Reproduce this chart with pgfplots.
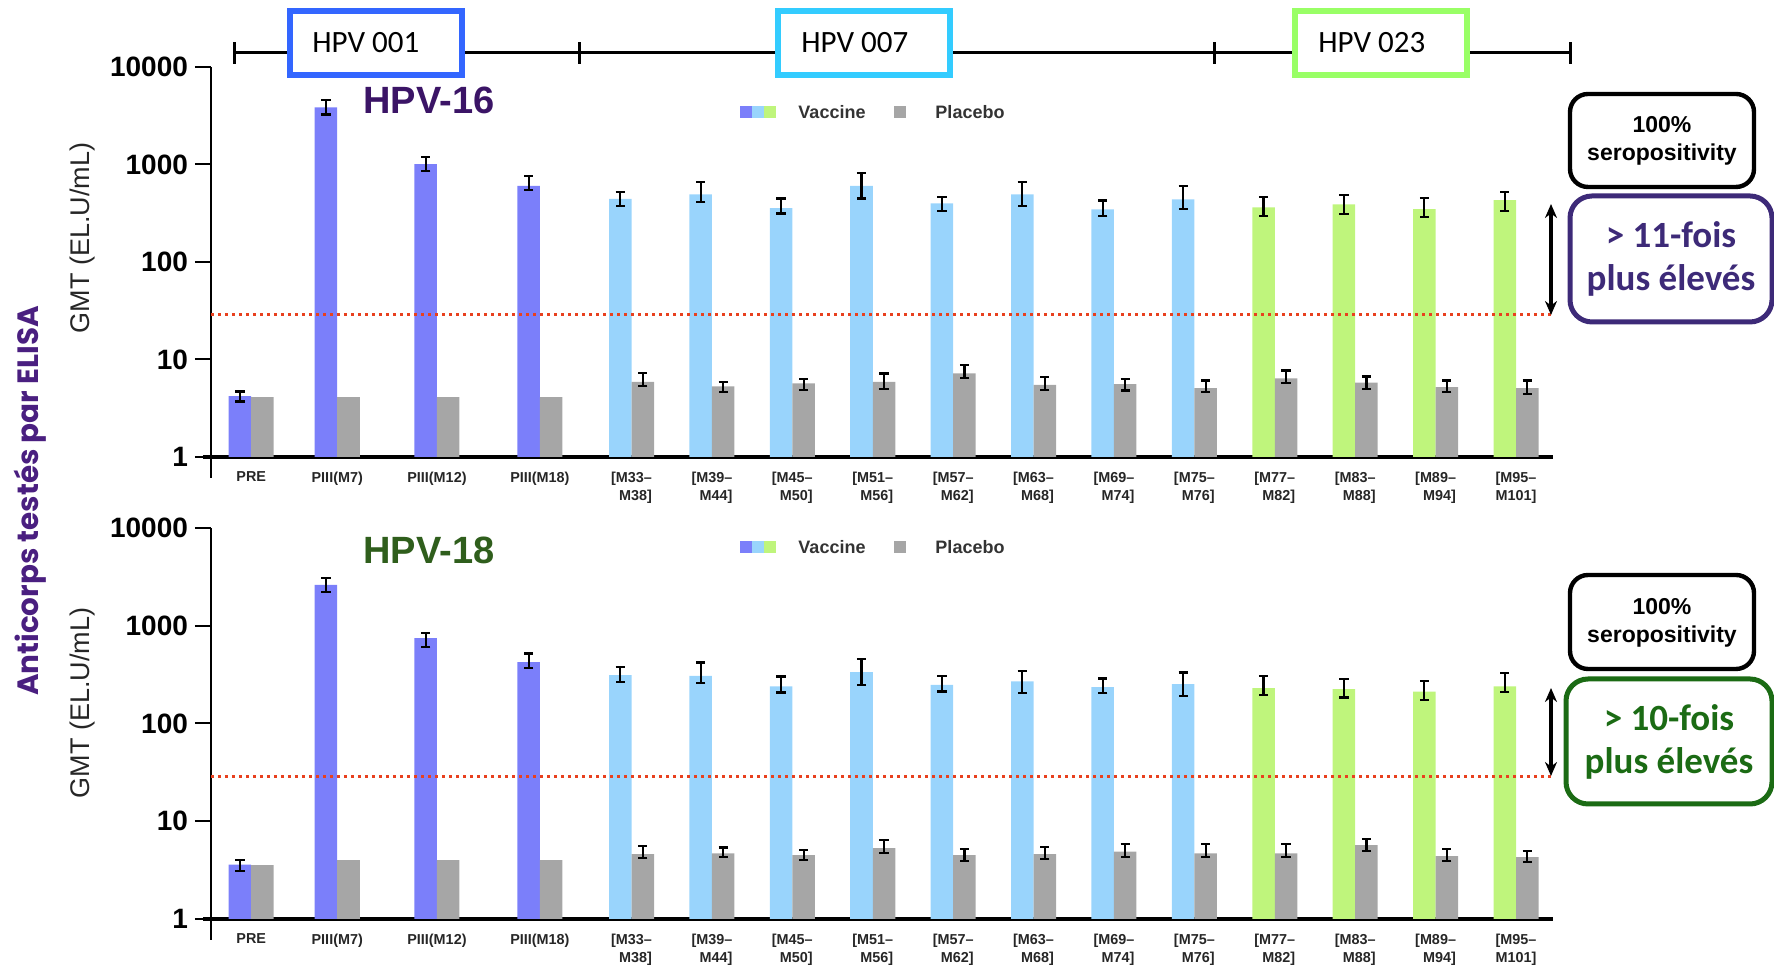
\documentclass[border=0pt]{standalone}
\usepackage{pgfplots}
\pgfplotsset{compat=1.18}
\usepackage{pgfplotstable}
\usepackage{fontspec}
\setmainfont{Liberation Sans}
\newfontfamily\calfont{Carlito}
\newfontfamily\popfont{Poppins}
\usetikzlibrary{arrows.meta}

\definecolor{vacA}{HTML}{7B7FFA}
\definecolor{vacB}{HTML}{99D4FC}
\definecolor{vacC}{HTML}{BFF57C}
\definecolor{plac}{HTML}{A6A6A6}
\definecolor{dotred}{HTML}{E8401E}
\definecolor{tpurple}{HTML}{3B1466}
\definecolor{tgreen}{HTML}{2F5E1C}
\definecolor{lpurple}{HTML}{4A1F80}
\definecolor{bpurple}{HTML}{3D2A78}
\definecolor{bgreen}{HTML}{1B6B14}
\definecolor{hpvA}{HTML}{3366FF}
\definecolor{hpvB}{HTML}{33CCFF}
\definecolor{hpvC}{HTML}{99FF66}

% HPV-16 (x = bar centre)
\pgfplotstableread{
x v ep em
-0.87 4.2 0.5 0.5
0.20 3860 720 610
1.44 1010 190 145
2.72 605 155 55
}\sixA
\pgfplotstableread{
x v ep em
3.86 443 83 68
4.86 495 165 80
5.86 356 91 42
6.86 605 210 158
7.86 400 68 64
8.86 495 172 120
9.86 347 80 49
10.86 440 167 90
}\sixB
\pgfplotstableread{
x v ep em
11.86 363 101 65
12.86 390 92 81
13.86 349 108 59
14.86 432 90 96
}\sixC
\pgfplotstableread{
x v
-0.59 4.1
0.48 4.1
1.72 4.1
3.00 4.1
}\sixPa
\pgfplotstableread{
x v ep em
4.14 5.9 1.4 0.6
5.14 5.3 0.6 0.7
6.14 5.7 0.6 0.8
7.14 5.9 1.3 0.9
8.14 7.2 1.5 0.7
9.14 5.5 1.1 0.6
10.14 5.6 0.7 0.8
11.14 5.1 1.0 0.5
12.14 6.4 1.3 0.7
13.14 5.8 0.9 0.8
14.14 5.2 0.9 0.6
15.14 5.1 1.0 0.7
}\sixPb
% HPV-18
\pgfplotstableread{
x v ep em
-0.87 3.6 0.4 0.5
0.20 2620 450 410
1.44 747 103 142
2.72 424 95 51
}\eigA
\pgfplotstableread{
x v ep em
3.86 312 65 44
4.86 307 114 49
5.86 239 63 32
6.86 335 123 87
7.86 248 59 36
8.86 269 76 65
9.86 235 53 31
10.86 252 80 61
}\eigB
\pgfplotstableread{
x v ep em
11.86 230 77 34
12.86 224 60 40
13.86 212 59 38
14.86 239 88 30
}\eigC
\pgfplotstableread{
x v
-0.59 3.55
0.48 4.0
1.72 4.0
3.00 4.0
}\eigPa
\pgfplotstableread{
x v ep em
4.14 4.6 1.0 0.4
5.14 4.7 0.7 0.4
6.14 4.5 0.6 0.5
7.14 5.3 1.1 0.6
8.14 4.5 0.7 0.6
9.14 4.6 0.9 0.5
10.14 4.9 1.0 0.6
11.14 4.7 1.2 0.4
12.14 4.7 1.2 0.4
13.14 5.7 0.9 0.7
14.14 4.4 0.8 0.5
15.14 4.3 0.7 0.5
}\eigPb

\begin{document}
\begin{tikzpicture}
\useasboundingbox (0,0) rectangle (887pt,486.5pt);

% ---------- top axis (HPV-16)
\begin{axis}[at={(105.5pt,258pt)}, anchor=south west, height=195pt,
    scale only axis, width=671pt,
    ymode=log, ymin=1, ymax=10000,
    xmin=-1.23, xmax=15.46,
    axis x line=bottom, axis y line=left,
    axis line style={-},
    x axis line style={line width=1.6pt},
    y axis line style={line width=1pt},
    ytick={1,10,100,1000,10000},
    yticklabels={1,10,100,1000,10000},
    yminorticks=false,
    tick align=outside,
    major tick length=8pt,
    every tick/.style={black, line width=1pt},
    yticklabel style={font=\bfseries\fontsize{14}{14}\selectfont},
    xtick={-0.73,0.34,1.58,2.86,4,5,6,7,8,9,10,11,12,13,14,15},
    xticklabels={PRE,PIII(M7),PIII(M12),PIII(M18),{[M33--\\M38]},{[M39--\\M44]},{[M45--\\M50]},{[M51--\\M56]},{[M57--\\M62]},{[M63--\\M68]},{[M69--\\M74]},{[M75--\\M76]},{[M77--\\M82]},{[M83--\\M88]},{[M89--\\M94]},{[M95--\\M101]}},
    x tick style={draw=none},
    xticklabel style={font=\bfseries\fontsize{7.2}{9}\selectfont, align=right, yshift=4pt, text=black!85},
    clip=false]
\addplot[ybar, bar width=0.28, draw=none, fill=vacA, error bars/.cd, y dir=both, y explicit, error bar style={draw=black, line width=1.1pt}, error mark options={draw=black, line width=1.1pt, mark size=2.3pt, rotate=90}] table[x=x, y=v, y error plus=ep, y error minus=em]{\sixA};
\addplot[ybar, bar width=0.28, draw=none, fill=vacB, error bars/.cd, y dir=both, y explicit, error bar style={draw=black, line width=1.1pt}, error mark options={draw=black, line width=1.1pt, mark size=2.3pt, rotate=90}] table[x=x, y=v, y error plus=ep, y error minus=em]{\sixB};
\addplot[ybar, bar width=0.28, draw=none, fill=vacC, error bars/.cd, y dir=both, y explicit, error bar style={draw=black, line width=1.1pt}, error mark options={draw=black, line width=1.1pt, mark size=2.3pt, rotate=90}] table[x=x, y=v, y error plus=ep, y error minus=em]{\sixC};
\addplot[ybar, bar width=0.28, draw=none, fill=plac] table[x=x, y=v]{\sixPa};
\addplot[ybar, bar width=0.28, draw=none, fill=plac, error bars/.cd, y dir=both, y explicit, error bar style={draw=black, line width=1.1pt}, error mark options={draw=black, line width=1.1pt, mark size=2.3pt, rotate=90}] table[x=x, y=v, y error plus=ep, y error minus=em]{\sixPb};
\addplot[dotred, line width=1.5pt, dash pattern=on 1.3pt off 2.2pt] coordinates {(-1.23,29) (15.46,29)};
\draw[line width=1.6pt] ([xshift=-4pt]axis description cs:0,0) -- (axis description cs:0,0);
\draw[line width=1pt] (axis description cs:0,0) -- ([yshift=-10.5pt]axis description cs:0,0);
\end{axis}

% ---------- bottom axis (HPV-18)
\begin{axis}[at={(105.5pt,27pt)}, anchor=south west, height=195.5pt,
    scale only axis, width=671pt,
    ymode=log, ymin=1, ymax=10000,
    xmin=-1.23, xmax=15.46,
    axis x line=bottom, axis y line=left,
    axis line style={-},
    x axis line style={line width=1.6pt},
    y axis line style={line width=1pt},
    ytick={1,10,100,1000,10000},
    yticklabels={1,10,100,1000,10000},
    yminorticks=false,
    tick align=outside,
    major tick length=8pt,
    every tick/.style={black, line width=1pt},
    yticklabel style={font=\bfseries\fontsize{14}{14}\selectfont},
    xtick={-0.73,0.34,1.58,2.86,4,5,6,7,8,9,10,11,12,13,14,15},
    xticklabels={PRE,PIII(M7),PIII(M12),PIII(M18),{[M33--\\M38]},{[M39--\\M44]},{[M45--\\M50]},{[M51--\\M56]},{[M57--\\M62]},{[M63--\\M68]},{[M69--\\M74]},{[M75--\\M76]},{[M77--\\M82]},{[M83--\\M88]},{[M89--\\M94]},{[M95--\\M101]}},
    x tick style={draw=none},
    xticklabel style={font=\bfseries\fontsize{7.2}{9}\selectfont, align=right, yshift=4pt, text=black!85},
    clip=false]
\addplot[ybar, bar width=0.28, draw=none, fill=vacA, error bars/.cd, y dir=both, y explicit, error bar style={draw=black, line width=1.1pt}, error mark options={draw=black, line width=1.1pt, mark size=2.3pt, rotate=90}] table[x=x, y=v, y error plus=ep, y error minus=em]{\eigA};
\addplot[ybar, bar width=0.28, draw=none, fill=vacB, error bars/.cd, y dir=both, y explicit, error bar style={draw=black, line width=1.1pt}, error mark options={draw=black, line width=1.1pt, mark size=2.3pt, rotate=90}] table[x=x, y=v, y error plus=ep, y error minus=em]{\eigB};
\addplot[ybar, bar width=0.28, draw=none, fill=vacC, error bars/.cd, y dir=both, y explicit, error bar style={draw=black, line width=1.1pt}, error mark options={draw=black, line width=1.1pt, mark size=2.3pt, rotate=90}] table[x=x, y=v, y error plus=ep, y error minus=em]{\eigC};
\addplot[ybar, bar width=0.28, draw=none, fill=plac] table[x=x, y=v]{\eigPa};
\addplot[ybar, bar width=0.28, draw=none, fill=plac, error bars/.cd, y dir=both, y explicit, error bar style={draw=black, line width=1.1pt}, error mark options={draw=black, line width=1.1pt, mark size=2.3pt, rotate=90}] table[x=x, y=v, y error plus=ep, y error minus=em]{\eigPb};
\addplot[dotred, line width=1.5pt, dash pattern=on 1.3pt off 2.2pt] coordinates {(-1.23,28.5) (15.46,28.5)};
\draw[line width=1.6pt] ([xshift=-4pt]axis description cs:0,0) -- (axis description cs:0,0);
\draw[line width=1pt] (axis description cs:0,0) -- ([yshift=-10.5pt]axis description cs:0,0);
\end{axis}

% ---------- axis labels
\node[rotate=90, font=\fontsize{13.5}{14}\selectfont, text=black!85] at (41.5pt,367.5pt) {GMT (EL.U/mL)};
\node[rotate=90, font=\fontsize{13.5}{14}\selectfont, text=black!85] at (41.5pt,135pt) {GMT (EL.U/mL)};
\node[rotate=90, font=\popfont\bfseries\fontsize{14.7}{15}\selectfont, text=lpurple] at (15pt,236pt) {Anticorps testés par ELISA};

% ---------- titles
\node[font=\bfseries\fontsize{19}{20}\selectfont, text=tpurple] at (214.5pt,436.5pt) {HPV-16};
\node[font=\bfseries\fontsize{19}{20}\selectfont, text=tgreen] at (214.5pt,211.5pt) {HPV-18};

% ---------- legends
\foreach \yy in {430.5pt,213pt}{
  \fill[vacA] (370pt,\yy-3pt) rectangle ++(6pt,6pt);
  \fill[vacB] (376pt,\yy-3pt) rectangle ++(6pt,6pt);
  \fill[vacC] (382pt,\yy-3pt) rectangle ++(6pt,6pt);
  \node[font=\bfseries\fontsize{9}{10}\selectfont, text=black!80] at (416pt,\yy) {Vaccine};
  \fill[plac] (447pt,\yy-3pt) rectangle ++(6pt,6pt);
  \node[font=\bfseries\fontsize{9}{10}\selectfont, text=black!80] at (485pt,\yy) {Placebo};
}

% ---------- study bracket
\draw[line width=1.5pt] (117pt,460pt) -- (785pt,460pt);
\foreach \xx in {117pt,289.5pt,607pt,785pt}{
  \draw[line width=1.5pt] (\xx,454.5pt) -- (\xx,465.5pt);
}
\draw[hpvA, line width=3pt, fill=white] (145pt,449pt) rectangle (231pt,481pt);
\node[anchor=west, font=\calfont\fontsize{15.5}{16}\selectfont, inner sep=0pt] at (156pt,465pt) {HPV 001};
\draw[hpvB, line width=3pt, fill=white] (389pt,449pt) rectangle (475pt,481pt);
\node[anchor=west, font=\calfont\fontsize{15.5}{16}\selectfont, inner sep=0pt] at (400.5pt,465pt) {HPV 007};
\draw[hpvC, line width=3pt, fill=white] (647.5pt,449pt) rectangle (733.5pt,481pt);
\node[anchor=west, font=\calfont\fontsize{15.5}{16}\selectfont, inner sep=0pt] at (659pt,465pt) {HPV 023};

% ---------- right annotations
\draw[line width=2.2pt, rounded corners=9pt] (785pt,393pt) rectangle (877pt,439.5pt);
\node[font=\bfseries\fontsize{11.5}{14}\selectfont, align=center] at (831pt,416.25pt) {100\%\\seropositivity};
\draw[bpurple, line width=2.5pt, rounded corners=11pt] (785pt,325.5pt) rectangle (886pt,388.5pt);
\node[font=\calfont\bfseries\fontsize{18.5}{21.5}\selectfont, align=center, text=bpurple] at (835.5pt,357pt) {> 11-fois\\plus élevés};
\draw[line width=1.8pt, {Stealth[length=7pt,width=6pt]}-{Stealth[length=7pt,width=6pt]}] (775.5pt,384.5pt) -- (775.5pt,329pt);

\draw[line width=2.2pt, rounded corners=9pt] (785pt,152pt) rectangle (877pt,199pt);
\node[font=\bfseries\fontsize{11.5}{14}\selectfont, align=center] at (831pt,175.25pt) {100\%\\seropositivity};
\draw[bgreen, line width=2.5pt, rounded corners=11pt] (783pt,84.5pt) rectangle (886pt,147pt);
\node[font=\calfont\bfseries\fontsize{18.5}{21.5}\selectfont, align=center, text=bgreen] at (834.5pt,115.75pt) {> 10-fois\\plus élevés};
\draw[line width=1.8pt, {Stealth[length=7pt,width=6pt]}-{Stealth[length=7pt,width=6pt]}] (775.5pt,142.5pt) -- (775.5pt,98.5pt);
\end{tikzpicture}
\end{document}
